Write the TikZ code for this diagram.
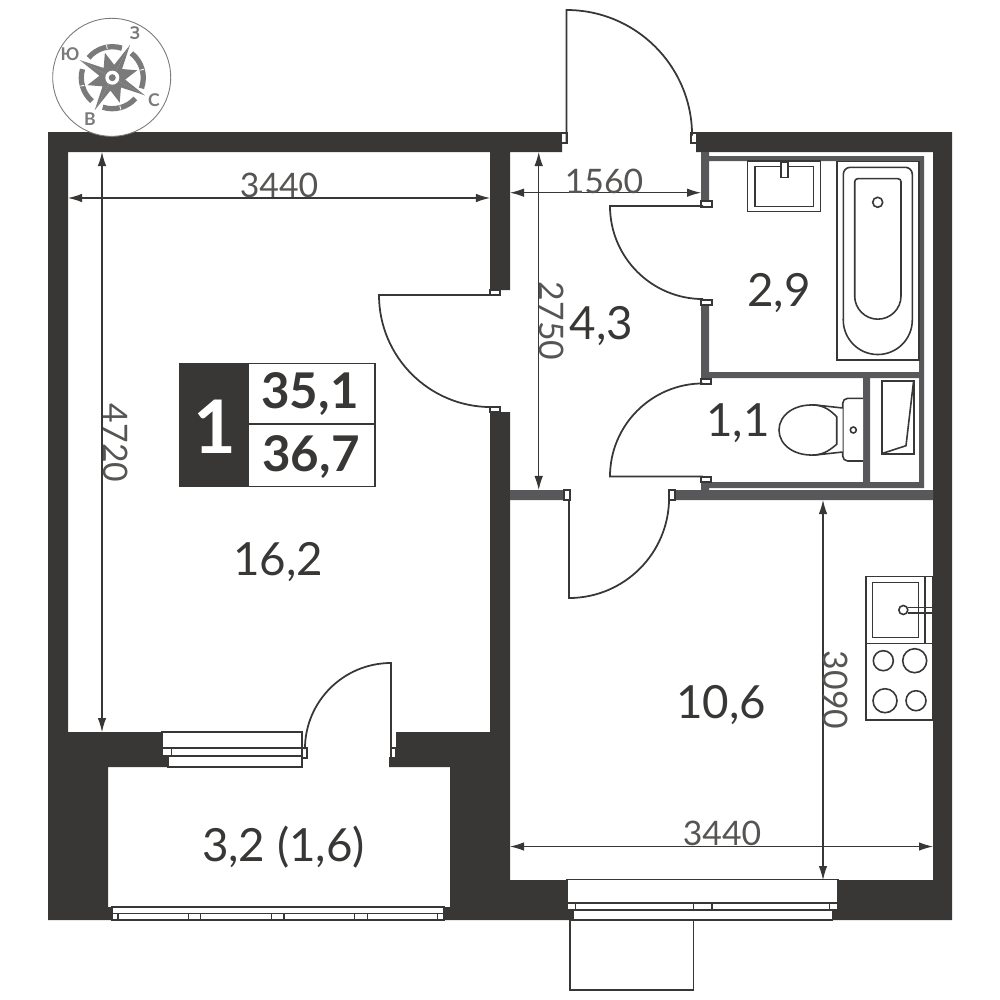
\documentclass[tikz,border=0pt]{standalone}
\usepackage{fontspec}
\setmainfont{Lato}
\usetikzlibrary{arrows.meta}
\definecolor{walldark}{HTML}{383735}
\definecolor{wallgrey}{HTML}{58585A}
\definecolor{compgrey}{HTML}{7A7A7A}

\tikzset{
  x=0.01cm, y=-0.01cm,
  fitting/.style={draw=walldark, line width=0.45pt, fill=white},
  doorleaf/.style={draw=walldark, line width=0.5pt},
  jamb/.style={draw=walldark, line width=0.4pt, fill=white},
  dimline/.style={draw=walldark, line width=0.3pt, {Latex[length=1.4mm,width=0.85mm]}-{Latex[length=1.4mm,width=0.85mm]}},
  dimlabel/.style={text=walldark!85, inner sep=0pt, font=\fontsize{9.6}{10}\selectfont},
  arealabel/.style={text=walldark, inner sep=0pt, font=\fontsize{13}{14}\selectfont},
  sumlabel/.style={text=walldark, inner sep=0pt, font=\fontsize{14}{15}\bfseries\selectfont},
  complabel/.style={text=compgrey, inner sep=0pt, font=\fontsize{5}{6}\bfseries\selectfont},
}

\begin{document}
\begin{tikzpicture}
\useasboundingbox (0,0) rectangle (1000,1000);

% load-bearing walls
\fill[walldark] (48,132) rectangle (562,152) (696,132) rectangle (952,152)
(48,132) rectangle (68,767) (48,767) rectangle (108,920)
(68,732) rectangle (168,767) (396,732) rectangle (490,767) (389,757) rectangle (396,767)
(490,152) rectangle (510,290) (490,412) rectangle (510,880)
(450,767) rectangle (510,920) (510,880) rectangle (567,920)
(838,880) rectangle (952,920) (933,152) rectangle (952,880)
(108,907) rectangle (450,920) (567,910) rectangle (573,920) (832,910) rectangle (838,920);

% partitions
\fill[wallgrey] (701,152) rectangle (709,204) (701,302) rectangle (709,380) (701,478) rectangle (709,490)
(709,156) rectangle (924,161) (919,156) rectangle (924,488)
(709,372) rectangle (924,378) (709,482) rectangle (924,488) (863,378) rectangle (870,488)
(510,490) rectangle (564,500) (674,490) rectangle (933,500);

% door jambs
\foreach \jx/\jy/\jw/\jh in {561/133/6/10, 691/133/6/10, 701/201/11/6, 701/300/11/5, 701/379/10/5, 701/477/10/5,
  490/290/10/5, 490/407/10/5, 564/490/6/10, 669/490/6/10, 302/748/5/10, 391/748/5/10}
  \draw[jamb] (\jx,\jy) rectangle +(\jw,\jh);

% door leaves
\draw[doorleaf] (566.5,143) -- (566.5,10) arc[start angle=90, end angle=0, radius=1.255cm];
\draw[doorleaf] (703,206) -- (610,206) arc[start angle=180, end angle=270, radius=0.93cm];
\draw[doorleaf] (703,476.5) -- (610,476.5) arc[start angle=180, end angle=90, radius=0.93cm];
\draw[doorleaf] (491,295) -- (379,295) arc[start angle=180, end angle=270, radius=1.12cm];
\draw[doorleaf] (569,500) -- (569,598) arc[start angle=270, end angle=360, radius=1cm];
\draw[doorleaf] (391,757) -- (391,663) arc[start angle=90, end angle=180, radius=0.86cm];

% windows
\draw[fitting] (162,732) rectangle (302,748) (162,748) rectangle (302,756) (168,756) rectangle (302,767);
\draw[fitting] (171.7,748) -- (171.7,756);
\draw[fitting] (112,907) rectangle (444,913.5) (112,913.5) rectangle (444,920);
\foreach \wx in {118,188.5,200.7,271.3,283.8,354.5,367.3,437.3}
  \draw[fitting] (\wx,913.5) -- (\wx,920);
\draw[fitting] (567,879.5) rectangle (838,903) (567,903) rectangle (838,910) (573,910) rectangle (832.5,920);
\foreach \wx in {575.7,693.3,712,829.3}
  \draw[fitting] (\wx,903) -- (\wx,910);
\draw[fitting] (570,920) rectangle (693.3,990);

% bathroom
\draw[fitting] (747.3,161) rectangle (820.3,211.7) (754.7,166.7) rectangle (813.3,206.7);
\draw[fitting] (780.7,162) rectangle (787.7,177.7);
\draw[fitting] (836.7,161.3) rectangle (918.7,360);
\draw[fitting] (843.3,320) [rounded corners=0.7mm] -- (843.3,167.3) -- (912.3,167.3) [sharp corners] -- (912.3,320)
  arc[start angle=0, end angle=-180, radius=0.345cm] -- cycle;
\draw[fitting] (854.7,296) [rounded corners=0.3mm] -- (854.7,178.7) -- (901,178.7) [sharp corners] -- (901,296)
  arc[start angle=0, end angle=-180, radius=0.2315cm] -- cycle;
\draw[fitting] (877.7,202.3) circle (5);

% wc
\draw[fitting, rounded corners=0.5mm] (863,398.3) -- (842.7,398.3) -- (842.7,461) -- (863,461);
\draw[fitting] (853.3,430) circle (3);
\draw[fitting] (842.7,408) -- (820,405.5) .. controls (795,402) and (779,415) .. (779,430)
  .. controls (779,445) and (795,458) .. (820,454.5) -- (842.7,452);
\draw[fitting, fill=none] (815,405) .. controls (825,406) and (831,411) .. (836.7,416.7) -- (836.7,444.3)
  .. controls (831,449) and (825,454) .. (815,455);
\draw[fitting, line width=0.6pt] (882,381) rectangle (914,453.7);
\draw[fitting, fill=none] (913.5,381.7) -- (906,445.7) -- (882.7,453.3);

% kitchen
\draw[fitting] (865.7,576.7) rectangle (932.3,720) (865.7,643.3) -- (932.3,643.3) (925,576.7) -- (925,643.3);
\draw[fitting] (872.3,582.7) rectangle (918.3,637.3);
\draw[fitting] (907.7,607.3) -- (932,607.3) (907.7,612.7) -- (932,612.7);
\draw[fitting] (903.3,610) circle (4.5);
\foreach \bx/\by/\br in {883.3/660.7/10, 914.7/660.7/12, 885/700.7/12, 916/700.7/10}
  \draw[fitting] (\bx,\by) circle (\br);

% dimensions
\path (68,198) coordinate (wA) (490,198) coordinate (wB)
(510,192.7) coordinate (hA) (701,192.7) coordinate (hB)
(102,152) coordinate (lA) (102,732) coordinate (lB)
(538.7,152) coordinate (cA) (538.7,490) coordinate (cB)
(823,500) coordinate (kA) (823,880) coordinate (kB)
(510,846.5) coordinate (bA) (933,846.5) coordinate (bB);
\draw[dimline] (wA) -- (wB);
\draw[dimline] (hA) -- (hB);
\draw[dimline] (lA) -- (lB);
\draw[dimline] (cA) -- (cB);
\draw[dimline] (kA) -- (kB);
\draw[dimline] (bA) -- (bB);
\node[dimlabel] (dimroom) at (279,185) {3440};
\node[dimlabel] (dimhall) at (604,181) {1560};
\node[dimlabel, rotate=-90] (dimlong) at (116,443) {4720};
\node[dimlabel, rotate=-90] (dimcorr) at (552,321) {2750};
\node[dimlabel, rotate=-90] (dimkitch) at (836,690) {3090};
\node[dimlabel] (dimbase) at (722,833) {3440};

% areas
\node[arealabel] (room) at (278,562) {16,2};
\node[arealabel] (hall) at (601.5,326) {4,3};
\node[arealabel] (bath) at (779,293) {2,9};
\node[arealabel] (wc) at (738,423) {1,1};
\node[arealabel] (kitchen) at (721,705) {10,6};
\node[arealabel] (loggia) at (283.5,847) {3,2 (1,6)};

% summary box
\draw[jamb, line width=0.5pt] (179.5,363.5) rectangle (375,486.5) (249,424) -- (375,424);
\fill[walldark] (179.5,363.5) rectangle (249,486.5);
\node[text=white, inner sep=0pt, font=\fontsize{21}{22}\bfseries\selectfont] (rooms) at (215,427) {1};
\node[sumlabel] (total) at (310,394) {35,1};
\node[sumlabel] (full) at (311,457) {36,7};

% compass
\draw[draw=compgrey, line width=0.25pt, fill=white] (111.7,77.3) circle (59);
\begin{scope}[shift={(112.3,77.7)}, y=0.01cm]
\foreach \a in {61.6,151.6,241.6,331.6}
  \fill[compgrey] (0,0) -- (\a:37) -- (\a+20:13) -- (\a+45:26) -- (\a+70:13) -- (\a+90:37) -- cycle;
\fill[white] (0,0) circle (7);
\fill[compgrey] (0,0) circle (3.5);
\draw[compgrey, line width=1.5pt] (72:31) arc[start angle=72, end angle=140, radius=0.31cm];
\draw[compgrey, line width=1.5pt] (-20:31) arc[start angle=-20, end angle=52, radius=0.31cm];
\draw[compgrey, line width=1.5pt] (-108:31) arc[start angle=-108, end angle=-42, radius=0.31cm];
\draw[compgrey, line width=1.5pt] (164:31) arc[start angle=164, end angle=229, radius=0.31cm];
\foreach \t in {15,100,195,285}
  \draw[white, line width=0.25pt] (\t:29) -- (\t:33);
\end{scope}
\node[complabel] (north) at (135,33) {З};
\node[complabel] (south) at (70,54) {Ю};
\node[complabel] (east) at (154,100) {С};
\node[complabel] (west) at (90,119) {В};

\end{tikzpicture}
\end{document}
